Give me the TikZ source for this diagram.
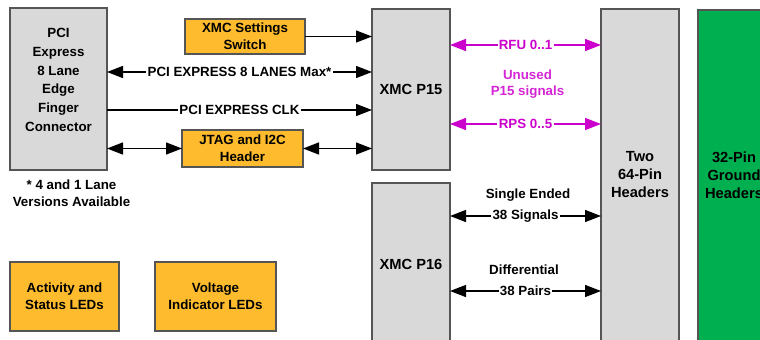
\documentclass[tikz,border=0pt]{standalone}
\usepackage{fontspec}
\setmainfont{Liberation Sans}
\usetikzlibrary{arrows.meta}

\definecolor{boxgray}{RGB}{217,217,217}
\definecolor{boxedge}{RGB}{85,85,85}
\definecolor{hdrorange}{RGB}{253,187,45}
\definecolor{gndgreen}{RGB}{0,176,80}
\definecolor{sigmagenta}{RGB}{204,0,204}

\begin{document}
\begin{tikzpicture}[x=0.75pt, y=-0.75pt,
  >={Triangle[length=12pt,width=9pt]},
  every node/.style={font=\fontsize{10}{12.5}\selectfont\bfseries, align=center},
  graybox/.style={draw=boxedge, line width=1.1pt, fill=boxgray, inner sep=0pt, outer sep=0pt},
  orangebox/.style={draw=boxedge, line width=1.1pt, fill=hdrorange, inner sep=0pt, outer sep=0pt},
  bigfont/.style={font=\fontsize{11}{13.5}\selectfont\bfseries},
  sig/.style={line width=1pt},
  lbl/.style={fill=white, inner sep=1pt}]

  \useasboundingbox (0,0) rectangle (760,339);
  \clip (0,0) rectangle (760,339);

  % =========================
  % boxes
  % =========================
  \node[graybox, minimum width=72.75pt, minimum height=121.5pt] (pci) at (58.5,89) {};
  \node[font=\fontsize{10}{14}\selectfont\bfseries] (pcitext) at (58.5,80)
    {PCI\\Express\\8 Lane\\Edge\\Finger\\Connector};

  \node[orangebox, minimum width=90pt, minimum height=26.25pt] (xmcsw) at (245,36.5)
    {XMC Settings\\Switch};
  \node[orangebox, minimum width=90.75pt, minimum height=27.75pt] (jtag) at (242.5,148.5)
    {JTAG and I2C\\Header};

  \node[graybox, bigfont, minimum width=58.5pt, minimum height=120.75pt] (p15) at (411,89.5)
    {XMC P15};
  \node[graybox, bigfont, minimum width=58.5pt, minimum height=121.5pt] (p16) at (411,264)
    {XMC P16};

  \node[graybox, minimum width=58.5pt, minimum height=252pt] (hdr) at (640,177) {};
  \node[bigfont] (hdrtext) at (640,175) {Two\\64-Pin\\Headers};

  \node[draw=boxedge, line width=1.1pt, fill=gndgreen, minimum width=54pt,
        minimum height=251.25pt, inner sep=0pt] (gnd) at (734,177.5) {};
  \node[bigfont] (gndtext) at (734,175) {32-Pin\\Ground\\Headers};

  \node[orangebox, minimum width=81.75pt, minimum height=51.75pt] (leds) at (64.5,296.5)
    {Activity and\\Status LEDs};
  \node[orangebox, minimum width=90.75pt, minimum height=51.75pt] (vleds) at (215.5,296.5)
    {Voltage\\Indicator LEDs};

  % footnote
  \node[font=\fontsize{10}{12.75}\selectfont\bfseries] (note) at (71.5,193.5)
    {* 4 and 1 Lane\\Versions Available};

  % =========================
  % signal levels
  % =========================
  \coordinate (lanes) at (240,72);
  \coordinate (clk)   at (240,110);
  \coordinate (rfu)   at (525,45);
  \coordinate (rps)   at (525,124);
  \coordinate (single) at (525,216);
  \coordinate (pairs)  at (525,291);

  % =========================
  % connectors
  % =========================
  \draw[sig, ->] (xmcsw.east) -- (p15.west |- xmcsw.east);
  \draw[sig, <->] (pci.east |- lanes) -- (p15.west |- lanes)
    node[lbl, midway] {PCI EXPRESS 8 LANES Max*};
  \draw[sig, ->] (pci.east |- clk) -- (p15.west |- clk)
    node[lbl, midway] {PCI EXPRESS CLK};
  \draw[sig, <->] (pci.east |- jtag.west) -- (jtag.west);
  \draw[sig, <->] (jtag.east) -- (p15.west |- jtag.east);

  % unused P15 signals
  \draw[sig, <->, sigmagenta] (p15.east |- rfu) -- (hdr.west |- rfu)
    node[lbl, midway, text=sigmagenta] {RFU 0..1};
  \draw[sig, <->, sigmagenta] (p15.east |- rps) -- (hdr.west |- rps)
    node[lbl, midway, text=sigmagenta] {RPS 0..5};
  \node[text=sigmagenta!85!white, font=\fontsize{10}{12}\selectfont\bfseries] (unused)
    at (527.5,84) {Unused\\P15 signals};

  % P16 signals
  \node (setext) at (528,195) {Single Ended};
  \draw[sig, <->] (p16.east |- single) -- (hdr.west |- single)
    node[lbl, midway] {38 Signals};
  \node (difftext) at (524,270) {Differential};
  \draw[sig, <->] (p16.east |- pairs) -- (hdr.west |- pairs)
    node[lbl, midway] {38 Pairs};

\end{tikzpicture}
\end{document}
